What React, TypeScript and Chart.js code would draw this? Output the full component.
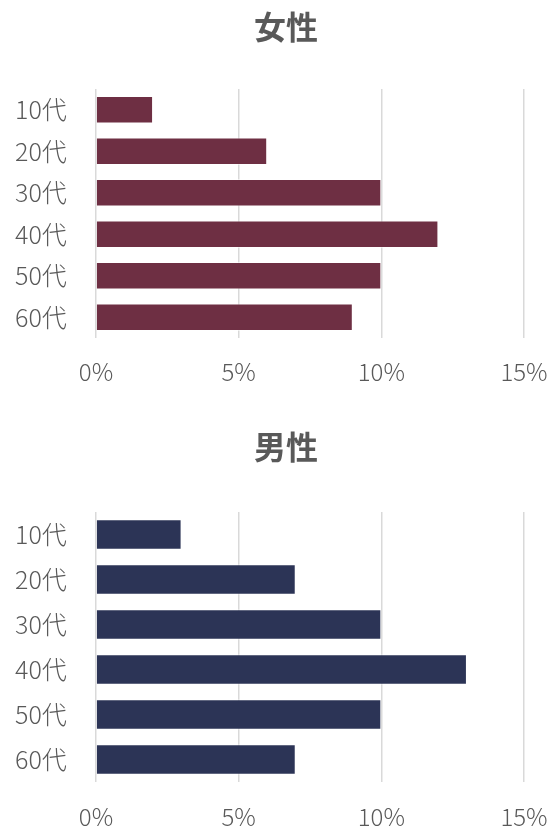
import React, { useEffect, useRef } from "react";
import { Chart, registerables } from "chart.js";

Chart.register(...registerables);

const categories = ["10代", "20代", "30代", "40代", "50代", "60代"];
const femaleValues = [2, 6, 10, 12, 10, 9];
const maleValues = [3, 7, 10, 13, 10, 7];
const xTickValues = [0, 5, 10, 15];
const femaleTitle = "女性";
const maleTitle = "男性";

const FONT = '"Noto Sans CJK JP", "Noto Sans", sans-serif';
const TEXT = "#595959";

type PanelProps = {
  title: string;
  values: number[];
  color: string;
  top: number;
  height: number;
  titleTop: number;
  titleBottom: number;
  barPct: number;
  xPad: number;
};

function Panel(p: PanelProps) {
  const ref = useRef<HTMLCanvasElement | null>(null);
  useEffect(() => {
    if (!ref.current) return;
    const chart = new Chart(ref.current, {
      type: "bar",
      data: {
        labels: categories,
        datasets: [
          {
            data: p.values,
            backgroundColor: p.color,
            borderColor: "rgba(255,255,255,0.55)",
            borderWidth: 1,
            barPercentage: p.barPct,
            categoryPercentage: 1,
          },
        ],
      },
      options: {
        indexAxis: "y",
        animation: false,
        responsive: false,
        maintainAspectRatio: false,
        devicePixelRatio: 1,
        layout: { padding: { left: 48, right: 30, top: 0, bottom: 0 } },
        plugins: {
          legend: { display: false },
          tooltip: { enabled: false },
          title: {
            display: true,
            text: p.title,
            color: TEXT,
            font: { family: FONT, size: 32, weight: "bold", lineHeight: 1.2 },
            padding: { top: p.titleTop, bottom: p.titleBottom },
          },
        },
        scales: {
          x: {
            min: 0,
            max: 15,
            afterBuildTicks: (scale: any) => {
              scale.ticks = xTickValues.map((v) => ({ value: v }));
            },
            afterFit: (scale: any) => {
              scale.paddingLeft = 0;
              scale.paddingRight = 0;
              scale.paddingTop = 0;
              scale.paddingBottom = 0;
            },
            ticks: {
              color: TEXT,
              font: { family: FONT, size: 24, weight: 300, lineHeight: 1.2 },
              padding: p.xPad,
              maxRotation: 0,
              autoSkip: false,
              callback: (v: any) => `${v}%`,
            },
            grid: { color: "#d9d9d9", lineWidth: 1.5, drawTicks: false },
            border: { display: false },
          },
          y: {
            afterFit: (scale: any) => {
              scale.width = 48;
              scale.paddingLeft = 0;
              scale.paddingRight = 0;
              scale.paddingTop = 0;
              scale.paddingBottom = 0;
            },
            ticks: {
              color: TEXT,
              font: { family: FONT, size: 25, weight: 300, lineHeight: 1.2 },
              mirror: true,
              crossAlign: "near",
              padding: -81,
            },
            grid: { display: false, drawTicks: false },
            border: { display: false },
          },
        },
      },
    });
    return () => chart.destroy();
  }, []);
  return (
    <div style={{ position: "absolute", left: 0, top: p.top, width: 554, height: p.height }}>
      <canvas ref={ref} width={554} height={p.height} style={{ width: 554, height: p.height }} />
    </div>
  );
}

export default function App() {
  return (
    <div
      style={{
        position: "fixed",
        left: 0,
        top: 0,
        width: 554,
        height: 827,
        overflow: "hidden",
        background: "#ffffff",
      }}
    >
      <Panel
        title={femaleTitle}
        values={femaleValues}
        color="#6E2F43"
        top={0}
        height={406}
        titleTop={7.8}
        titleBottom={42.8}
        barPct={0.66}
        xPad={19.6}
      />
      <Panel
        title={maleTitle}
        values={maleValues}
        color="#2C3456"
        top={400}
        height={452}
        titleTop={27.8}
        titleBottom={45.8}
        barPct={0.68}
        xPad={20.6}
      />
    </div>
  );
}
